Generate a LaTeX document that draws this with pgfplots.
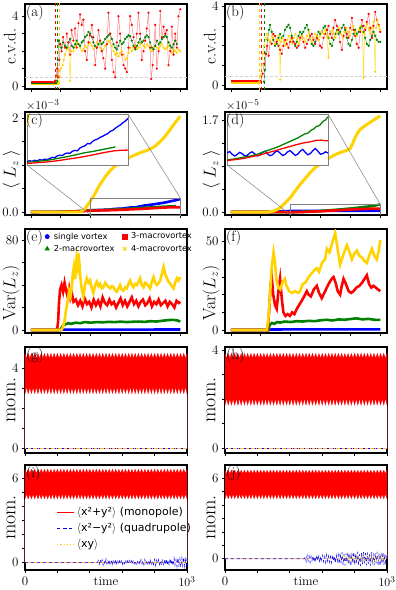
\documentclass[border=0pt]{standalone}
\usepackage{fontspec}
\usepackage{pgfplots}
\usepackage{pgfplotstable}
\pgfplotsset{compat=1.18}
\newfontfamily\dejavu{DejaVu Sans}
\definecolor{cgold}{RGB}{255,210,0}
\definecolor{cgreen}{RGB}{0,128,0}

\pgfplotsset{
  panel/.style={
    scale only axis, width=162bp, anchor=north west,
    axis line style={line width=1.1pt},
    tick align=outside, xtick pos=bottom, ytick pos=left,
    major tick length=3bp, every tick/.style={black, line width=0.7pt},
    xtick={0,200,400,600,800,1000}, xticklabels={},
    tick label style={font=\fontsize{13}{13}\selectfont},
  },
  ylab/.style n args={3}{ylabel style={at={(axis description cs:#1,#2)}, anchor=center,
      font=\fontsize{#3}{#3}\selectfont}},
  padx/.style={xmin=-40, xmax=1045},
  tightx/.style={xmin=0, xmax=1000},
  cvd/.style={line width=0.5pt, mark=*, mark size=0.85pt},
  thk/.style={line width=2.6pt},
  bandtop/.style={fill=red, draw=red, line width=0.3pt},
  bandbot/.style={fill=white, draw=none},
  dotlegend/.style={legend image code/.code={\draw[##1] plot coordinates {(0cm,0cm)};}},
}
\tikzset{plab/.style={anchor=north west, inner sep=1pt, font=\fontsize{15}{15}\selectfont}}

% envelopes of the fast oscillating monopole moment (g)-(j)
\pgfplotstableread{
t gU gL hU hL iU iL jU jL
0 4.75 2.67 3.86 1.70 6.64 4.45 6.60 4.40
10 4.50 3.00 3.66 1.97 6.36 4.80 6.35 4.75
20 4.75 2.67 3.86 1.70 6.64 4.45 6.60 4.40
30 4.50 3.00 3.66 1.97 6.36 4.80 6.35 4.75
40 4.75 2.67 3.86 1.70 6.64 4.45 6.60 4.40
50 4.50 3.00 3.66 1.97 6.36 4.80 6.35 4.75
60 4.75 2.67 3.86 1.70 6.64 4.45 6.60 4.40
70 4.50 3.00 3.66 1.97 6.36 4.80 6.35 4.75
80 4.75 2.67 3.86 1.70 6.64 4.45 6.60 4.40
90 4.50 3.00 3.66 1.97 6.36 4.80 6.35 4.75
100 4.75 2.67 3.86 1.70 6.64 4.45 6.60 4.40
110 4.50 3.00 3.66 1.97 6.36 4.80 6.35 4.75
120 4.75 2.67 3.86 1.70 6.64 4.45 6.60 4.40
130 4.50 3.00 3.66 1.97 6.36 4.80 6.35 4.75
140 4.75 2.67 3.86 1.70 6.64 4.45 6.60 4.40
150 4.50 3.00 3.66 1.97 6.36 4.80 6.35 4.75
160 4.75 2.67 3.86 1.70 6.64 4.45 6.60 4.40
170 4.50 3.00 3.66 1.97 6.36 4.80 6.35 4.75
180 4.75 2.67 3.86 1.70 6.64 4.45 6.60 4.40
190 4.50 3.00 3.66 1.97 6.36 4.80 6.35 4.75
200 4.75 2.67 3.86 1.70 6.64 4.45 6.60 4.40
210 4.50 3.00 3.66 1.97 6.36 4.80 6.35 4.75
220 4.75 2.67 3.86 1.70 6.64 4.45 6.60 4.40
230 4.50 3.00 3.66 1.97 6.36 4.80 6.35 4.75
240 4.75 2.67 3.86 1.70 6.64 4.45 6.60 4.40
250 4.50 3.00 3.66 1.97 6.36 4.80 6.35 4.75
260 4.75 2.67 3.86 1.70 6.64 4.45 6.60 4.40
270 4.50 3.00 3.66 1.97 6.36 4.80 6.35 4.75
280 4.75 2.67 3.86 1.70 6.64 4.45 6.60 4.40
290 4.50 3.00 3.66 1.97 6.36 4.80 6.35 4.75
300 4.75 2.67 3.86 1.70 6.64 4.45 6.60 4.40
310 4.50 3.00 3.66 1.97 6.36 4.80 6.35 4.75
320 4.75 2.67 3.86 1.70 6.64 4.45 6.60 4.40
330 4.50 3.00 3.66 1.97 6.36 4.80 6.35 4.75
340 4.75 2.67 3.86 1.70 6.64 4.45 6.60 4.40
350 4.50 3.00 3.66 1.97 6.36 4.80 6.35 4.75
360 4.75 2.67 3.86 1.70 6.64 4.45 6.60 4.40
370 4.50 3.00 3.66 1.97 6.36 4.80 6.35 4.75
380 4.75 2.67 3.86 1.70 6.64 4.45 6.60 4.40
390 4.50 3.00 3.66 1.97 6.36 4.80 6.35 4.75
400 4.75 2.67 3.86 1.70 6.64 4.45 6.60 4.40
410 4.50 3.00 3.66 1.97 6.36 4.80 6.35 4.75
420 4.75 2.67 3.86 1.70 6.64 4.45 6.60 4.40
430 4.50 3.00 3.66 1.97 6.36 4.80 6.35 4.75
440 4.75 2.67 3.86 1.70 6.64 4.45 6.60 4.40
450 4.50 3.00 3.66 1.97 6.36 4.80 6.35 4.75
460 4.75 2.67 3.86 1.70 6.64 4.45 6.60 4.40
470 4.50 3.00 3.66 1.97 6.36 4.80 6.35 4.75
480 4.75 2.67 3.86 1.70 6.64 4.45 6.60 4.40
490 4.50 3.00 3.66 1.97 6.36 4.80 6.35 4.75
500 4.75 2.67 3.86 1.70 6.64 4.45 6.60 4.40
510 4.50 3.00 3.66 1.97 6.36 4.80 6.35 4.75
520 4.75 2.67 3.86 1.70 6.64 4.45 6.60 4.40
530 4.50 3.00 3.66 1.97 6.36 4.80 6.35 4.75
540 4.75 2.67 3.86 1.70 6.64 4.45 6.60 4.40
550 4.50 3.00 3.66 1.97 6.36 4.80 6.35 4.75
560 4.75 2.67 3.86 1.70 6.64 4.45 6.60 4.40
570 4.50 3.00 3.66 1.97 6.36 4.80 6.35 4.75
580 4.75 2.67 3.86 1.70 6.64 4.45 6.60 4.40
590 4.50 3.00 3.66 1.97 6.36 4.80 6.35 4.75
600 4.75 2.67 3.86 1.70 6.64 4.45 6.60 4.40
610 4.50 3.00 3.66 1.97 6.36 4.80 6.35 4.75
620 4.75 2.67 3.86 1.70 6.64 4.45 6.60 4.40
630 4.50 3.00 3.66 1.97 6.36 4.80 6.35 4.75
640 4.75 2.67 3.86 1.70 6.64 4.45 6.60 4.40
650 4.50 3.00 3.66 1.97 6.36 4.80 6.35 4.75
660 4.75 2.67 3.86 1.70 6.64 4.45 6.60 4.40
670 4.50 3.00 3.66 1.97 6.36 4.80 6.35 4.75
680 4.75 2.67 3.86 1.70 6.64 4.45 6.60 4.40
690 4.50 3.00 3.66 1.97 6.36 4.80 6.35 4.75
700 4.75 2.67 3.86 1.70 6.64 4.45 6.60 4.40
710 4.50 3.00 3.66 1.97 6.36 4.80 6.35 4.75
720 4.75 2.67 3.86 1.70 6.64 4.45 6.60 4.40
730 4.50 3.00 3.66 1.97 6.36 4.80 6.35 4.75
740 4.75 2.67 3.86 1.70 6.64 4.45 6.60 4.40
750 4.50 3.00 3.66 1.97 6.36 4.80 6.35 4.75
760 4.75 2.67 3.86 1.70 6.64 4.45 6.60 4.40
770 4.50 3.00 3.66 1.97 6.36 4.80 6.35 4.75
780 4.75 2.67 3.86 1.70 6.64 4.45 6.60 4.40
790 4.50 3.00 3.66 1.97 6.36 4.80 6.35 4.75
800 4.75 2.67 3.86 1.70 6.64 4.45 6.60 4.40
810 4.50 3.00 3.66 1.97 6.36 4.80 6.35 4.75
820 4.75 2.67 3.86 1.70 6.64 4.45 6.60 4.40
830 4.50 3.00 3.66 1.97 6.36 4.80 6.35 4.75
840 4.75 2.67 3.86 1.70 6.64 4.45 6.60 4.40
850 4.50 3.00 3.66 1.97 6.36 4.80 6.35 4.75
860 4.75 2.67 3.86 1.70 6.64 4.45 6.60 4.40
870 4.50 3.00 3.66 1.97 6.36 4.80 6.35 4.75
880 4.75 2.67 3.86 1.70 6.64 4.45 6.60 4.40
890 4.50 3.00 3.66 1.97 6.36 4.80 6.35 4.75
900 4.75 2.67 3.86 1.70 6.64 4.45 6.60 4.40
910 4.50 3.00 3.66 1.97 6.36 4.80 6.35 4.75
920 4.75 2.67 3.86 1.70 6.64 4.45 6.60 4.40
930 4.50 3.00 3.66 1.97 6.36 4.80 6.35 4.75
940 4.75 2.67 3.86 1.70 6.64 4.45 6.60 4.40
950 4.50 3.00 3.66 1.97 6.36 4.80 6.35 4.75
960 4.75 2.67 3.86 1.70 6.64 4.45 6.60 4.40
970 4.50 3.00 3.66 1.97 6.36 4.80 6.35 4.75
980 4.75 2.67 3.86 1.70 6.64 4.45 6.60 4.40
990 4.50 3.00 3.66 1.97 6.36 4.80 6.35 4.75
1000 4.75 2.67 3.86 1.70 6.64 4.45 6.60 4.40
}\bands

\begin{document}
\begin{tikzpicture}
\path[use as bounding box] (0,0) rectangle (396bp,-590bp);

%================ (a)
\begin{axis}[panel, padx, name=pa, at={(25bp,-4bp)}, height=85bp,
  ymin=-0.17, ymax=4.7, ytick={0,1,2,3,4}, yticklabels={0,,,,4},
  ylabel={c.v.d.}, ylab={-0.093}{0.5}{17}]
\addplot[gray!35, densely dashed, line width=0.5pt] coordinates {(-40,0.5)(1045,0.5)};
\addplot[red, dashed, line width=0.5pt] coordinates {(160,-0.2)(160,4.8)};
\addplot[cgreen, dashed, line width=0.5pt] coordinates {(177,-0.2)(177,4.8)};
\addplot[cgold, dashed, line width=0.5pt] coordinates {(190,-0.2)(190,4.8)};
\addplot[cgold, line width=2.5pt] coordinates {(0,0.13)(185,0.13)};
\addplot[cgreen, line width=2pt] coordinates {(0,0.18)(175,0.18)};
\addplot[red, line width=1.8pt] coordinates {(0,0.22)(150,0.22)};
\addplot[cvd, draw=cgold!80, mark options={draw=cgold, fill=cgold}] coordinates {
(185,0.2)(192,0.5)(200,1.0)(212,1.2)(220,1.5)(228,1.8)(240,2.1)(252,2.2)(262,0.3)(270,2.0)
(285,2.0)(296,2.3)(306,2.5)(318,2.4)(329,2.2)(340,2.0)(351,2.1)(362,2.3)(374,2.2)(385,2.4)
(396,2.5)(408,2.3)(418,2.1)(430,2.3)(441,2.5)(452,2.4)(463,2.2)(474,2.0)(485,2.1)(497,2.3)
(508,2.4)(519,2.6)(530,2.5)(542,2.3)(553,2.0)(564,1.8)(575,1.9)(586,1.7)(597,1.9)(609,2.0)
(620,1.8)(631,1.5)(642,1.6)(653,1.9)(664,2.2)(675,2.0)(687,2.2)(698,2.3)(709,2.1)(720,2.2)
(731,2.4)(742,2.5)(754,2.3)(765,2.2)(776,2.4)(787,2.3)(798,2.1)(810,2.0)(821,2.2)(832,2.3)
(843,2.2)(855,2.1)(866,2.3)(877,2.4)(888,2.2)(899,2.1)(910,2.2)(921,2.3)(933,2.0)(944,1.9)
(955,2.1)(966,2.0)(977,1.9)(988,2.1)(1000,2.0)};
\addplot[cvd, draw=cgreen!70, mark options={draw=cgreen, fill=cgreen}] coordinates {
(175,0.3)(180,1.5)(186,2.6)(195,2.4)(205,2.2)(215,2.5)(228,2.3)(240,2.2)(252,2.5)(262,2.7)
(274,2.3)(285,2.2)(296,2.4)(306,2.6)(318,2.4)(329,2.3)(340,2.5)(351,2.6)(362,2.8)(374,2.9)
(385,3.1)(396,3.0)(408,2.8)(418,2.5)(430,2.3)(441,2.2)(452,2.4)(463,2.6)(474,2.4)(485,2.5)
(497,2.7)(508,2.8)(519,2.9)(530,3.0)(542,2.7)(553,2.4)(564,2.2)(575,2.1)(586,2.3)(597,2.6)
(609,2.4)(620,2.5)(631,2.7)(642,2.8)(653,2.9)(664,2.85)(675,2.6)(687,2.3)(698,2.1)(709,2.3)
(720,2.5)(731,2.7)(742,2.5)(754,2.6)(765,2.8)(776,2.9)(787,2.8)(798,2.5)(810,2.2)(821,2.1)
(832,2.3)(843,2.6)(855,2.4)(866,2.5)(877,2.7)(888,2.8)(899,2.9)(910,2.8)(921,2.5)(933,2.3)
(944,2.2)(955,2.4)(966,2.6)(977,2.4)};
\addplot[cvd, draw=red!50, mark options={draw=red, fill=red}] coordinates {
(150,0.2)(160,0.3)(168,0.6)(175,1.0)(182,0.5)(190,1.5)(197,2.4)(205,2.0)(215,2.8)(228,2.2)
(240,3.0)(250,2.5)(262,1.8)(272,3.2)(284,2.6)(295,3.3)(306,2.2)(318,3.6)(329,4.1)(340,3.5)
(351,3.8)(362,2.0)(374,1.5)(385,2.5)(396,2.9)(408,3.5)(418,2.8)(430,1.2)(441,2.2)(452,3.2)
(463,2.6)(474,2.0)(485,1.6)(497,1.0)(508,2.4)(519,4.2)(530,3.0)(542,1.5)(553,0.8)(564,0.5)
(575,2.5)(586,4.0)(597,3.0)(609,1.8)(620,1.2)(631,1.0)(642,0.8)(653,2.2)(664,4.0)(675,3.5)
(687,2.8)(698,2.2)(709,3.0)(720,4.2)(731,3.0)(742,1.5)(754,2.0)(765,2.6)(776,3.3)(787,4.2)
(798,2.2)(805,0.4)(815,1.2)(832,3.5)(843,1.0)(855,2.0)(866,4.3)(877,2.8)(888,3.4)(899,3.0)
(910,3.2)(921,1.2)(933,2.0)(944,3.4)(955,1.8)(966,3.0)(977,2.2)(988,4.0)(1000,4.4)};
\end{axis}
\node[plab] at (pa.north west) {(a)};

%================ (b)
\begin{axis}[panel, padx, name=pb, at={(225bp,-4bp)}, height=85bp,
  ymin=-0.17, ymax=4.1, ytick={0,1,2,3,4}, yticklabels={0,,,,4},
  ylabel={c.v.d.}, ylab={-0.093}{0.5}{17}]
\addplot[gray!35, densely dashed, line width=0.5pt] coordinates {(-40,0.45)(1045,0.45)};
\addplot[cgold, dashed, line width=0.5pt] coordinates {(190,-0.2)(190,4.2)};
\addplot[red, dashed, line width=0.5pt] coordinates {(201,-0.2)(201,4.2)};
\addplot[cgreen, dashed, line width=0.5pt] coordinates {(221,-0.2)(221,4.2)};
\addplot[red, line width=2.2pt] coordinates {(0,0.22)(200,0.22)};
\addplot[cgold, line width=2.5pt] coordinates {(0,0.13)(190,0.13)};
\addplot[cvd, draw=cgreen!70, mark options={draw=cgreen, fill=cgreen}] coordinates {
(221,0.2)(228,0.8)(235,1.6)(245,2.3)(255,2.8)(262,3.05)(273,2.7)(284,2.3)(295,2.0)(306,2.1)
(318,2.4)(329,2.6)(340,2.4)(351,2.5)(362,2.8)(374,2.95)(385,3.05)(396,2.9)(407,2.5)(418,2.2)
(430,2.0)(441,2.2)(452,2.5)(463,2.7)(474,2.6)(485,2.7)(497,2.9)(508,3.05)(519,2.8)(530,2.4)
(541,2.1)(552,2.0)(564,2.2)(575,2.5)(586,2.7)(597,2.6)(608,2.7)(620,2.9)(631,3.0)(642,2.8)
(653,2.4)(665,2.1)(676,2.0)(687,2.3)(698,2.6)(709,2.8)(720,2.6)(731,2.7)(743,2.9)(754,3.05)
(765,2.8)(776,2.4)(787,2.1)(798,2.0)(810,2.3)(821,2.6)(832,2.8)(843,2.6)(855,2.7)(866,2.9)
(877,3.0)(888,2.7)(899,2.4)(910,2.1)(922,2.0)(933,2.3)(944,2.5)(955,2.7)(966,2.5)(977,2.3)
(989,2.2)(1000,2.2)};
\addplot[cvd, draw=red!50, mark options={draw=red, fill=red}] coordinates {
(201,0.2)(212,0.6)(222,1.1)(232,1.6)(242,2.0)(252,1.5)(262,2.2)(273,2.1)(284,2.6)(295,2.5)
(306,2.2)(318,2.0)(329,1.8)(340,1.6)(351,2.0)(362,2.3)(374,2.1)(385,1.9)(396,2.2)(407,2.4)
(418,2.2)(430,2.1)(441,1.9)(452,2.0)(463,2.4)(474,2.5)(485,2.2)(497,1.9)(508,2.1)(519,2.3)
(530,2.5)(541,2.6)(552,2.3)(564,2.1)(575,2.4)(586,2.3)(597,2.0)(608,1.9)(620,2.4)(631,2.6)
(642,2.8)(653,3.0)(665,2.6)(676,2.4)(687,2.9)(698,3.3)(709,3.0)(720,2.8)(731,2.2)(743,1.8)
(754,2.5)(765,2.9)(776,2.6)(787,2.4)(798,2.9)(810,3.4)(821,2.8)(832,2.5)(843,2.1)(855,1.9)
(866,2.7)(877,3.3)(888,3.0)(899,2.8)(910,3.2)(922,3.6)(933,2.9)(944,2.4)(955,3.0)(966,3.7)
(977,3.3)(989,3.05)(1000,2.7)};
\addplot[cvd, draw=cgold!80, mark options={draw=cgold, fill=cgold}] coordinates {
(190,0.2)(198,0.5)(206,1.0)(214,1.6)(222,2.0)(232,2.4)(242,2.6)(252,2.3)(262,2.2)(273,2.5)
(284,2.4)(295,2.1)(306,2.3)(318,2.5)(325,2.3)(329,0.3)(335,2.2)(345,2.4)(355,2.2)(366,2.0)
(377,2.3)(388,2.5)(399,2.3)(410,2.1)(421,2.4)(432,2.6)(443,2.3)(454,2.1)(465,2.3)(476,2.5)
(487,2.4)(498,2.2)(509,2.5)(520,2.7)(531,2.4)(542,2.2)(553,2.4)(564,2.6)(575,2.5)(586,2.3)
(597,2.5)(608,2.7)(620,2.6)(631,2.8)(642,2.5)(653,1.4)(660,2.4)(670,2.7)(680,2.8)(690,2.6)
(700,2.4)(712,2.7)(724,2.9)(736,2.6)(748,2.4)(760,2.7)(772,2.9)(784,2.7)(796,2.5)(808,2.8)
(820,3.0)(832,2.7)(844,2.5)(856,2.8)(868,3.0)(880,2.7)(888,0.4)(894,2.6)(904,2.9)(914,3.1)
(924,2.8)(934,2.6)(944,2.9)(955,3.2)(966,0.7)(972,2.9)(982,3.3)(992,3.0)(1000,2.8)};
\end{axis}
\node[plab] at (pb.north west) {(b)};

%================ (c)
\begin{axis}[panel, padx, name=pc, at={(25bp,-112bp)}, height=103bp,
  ymin=-0.064, ymax=2.13, ytick={0,0.5,1,1.5,2}, yticklabels={0.0,,,,2},
  ylabel={$\langle\; L_z\;\rangle$}, ylab={-0.084}{0.44}{16}]
\addplot[blue, thk] coordinates {
(0,0)(200,0.005)(300,0.015)(400,0.038)(430,0.040)(460,0.043)(490,0.047)(520,0.050)
(550,0.062)(580,0.070)(610,0.072)(640,0.086)(670,0.096)(700,0.098)(730,0.120)(760,0.138)
(790,0.150)(820,0.163)(850,0.178)(880,0.192)(910,0.21)(940,0.232)(970,0.252)(1000,0.276)};
\addplot[cgreen, thk] coordinates {
(0,0)(200,0.004)(300,0.012)(400,0.035)(460,0.040)(520,0.046)(580,0.056)(640,0.066)
(700,0.078)(760,0.09)(820,0.1)(880,0.111)(940,0.12)(970,0.123)};
\addplot[red, thk] coordinates {
(0,0)(200,0.003)(300,0.01)(400,0.029)(480,0.034)(560,0.041)(640,0.052)(720,0.063)
(800,0.077)(880,0.092)(920,0.098)(960,0.101)(1000,0.102)};
\addplot[cgold, line width=3pt] coordinates {
(0,0)(330,0)(360,0.06)(400,0.24)(430,0.4)(463,0.59)(500,0.76)(530,0.88)(560,0.97)
(597,1.04)(630,1.1)(664,1.17)(700,1.22)(731,1.26)(765,1.3)(798,1.34)(830,1.4)(866,1.5)
(900,1.62)(933,1.76)(965,1.9)(1000,2.04)};
\draw[gray, line width=0.6pt] (axis cs:400,-0.064) rectangle (axis cs:1000,0.3);
\coordinate (cR1) at (axis cs:400,-0.064);
\coordinate (cR2) at (axis cs:1000,0.3);
\end{axis}
\begin{axis}[name=insc, at={(27bp,-114bp)}, anchor=north west, scale only axis,
  width=101bp, height=51bp, xmin=400, xmax=1000, ymin=0.02, ymax=0.30, ticks=none,
  axis line style={gray, line width=0.6pt}, axis background/.style={fill=white}]
\addplot[cgold, line width=1.6pt] coordinates {(400,0.24)(430,0.4)};
\addplot[blue, line width=1.3pt] coordinates {
(400,0.038)(415,0.044)(430,0.040)(445,0.046)(460,0.043)(475,0.049)(490,0.047)(505,0.052)
(520,0.050)(536,0.056)(550,0.062)(565,0.060)(580,0.070)(595,0.074)(610,0.072)(625,0.082)
(640,0.086)(655,0.084)(670,0.096)(685,0.100)(700,0.098)(715,0.114)(730,0.120)(745,0.126)
(760,0.138)(775,0.136)(790,0.150)(805,0.158)(820,0.163)(835,0.172)(850,0.178)(865,0.186)
(880,0.192)(895,0.205)(910,0.21)(925,0.222)(940,0.232)(955,0.24)(970,0.252)(985,0.262)(1000,0.276)};
\addplot[cgreen, line width=1.3pt] coordinates {
(400,0.035)(430,0.038)(460,0.040)(490,0.043)(520,0.046)(550,0.05)(580,0.056)(610,0.061)
(640,0.066)(670,0.072)(700,0.078)(730,0.085)(760,0.09)(790,0.094)(820,0.1)(850,0.105)
(880,0.111)(910,0.116)(925,0.12)};
\addplot[red, line width=1.3pt] coordinates {
(400,0.029)(440,0.031)(480,0.034)(520,0.037)(560,0.041)(600,0.046)(640,0.052)(680,0.057)
(720,0.063)(760,0.07)(800,0.077)(840,0.085)(880,0.092)(920,0.098)(960,0.101)(1000,0.102)};
\end{axis}
\draw[gray, line width=0.5pt] (insc.south west) -- (cR1);
\draw[gray, line width=0.5pt] (insc.north east) -- (cR2);
\node[plab] at (pc.north west) {(c)};
\node[anchor=south west, inner sep=1pt, font=\fontsize{13}{13}\selectfont] at (pc.north west) {$\times10^{-3}$};

%================ (d)
\begin{axis}[panel, padx, name=pd, at={(225bp,-112bp)}, height=103bp,
  ymin=-0.055, ymax=1.85, ytick={0,0.425,0.85,1.275,1.7}, yticklabels={0.0,,,,1.7},
  ylabel={$\langle\; L_z\;\rangle$}, ylab={-0.084}{0.44}{16}]
\addplot[blue, thk] coordinates {(0,0)(300,0.005)(400,0.02)(1000,0.02)};
\addplot[cgreen, thk] coordinates {
(0,0)(300,0)(400,-0.003)(500,0.006)(580,0.016)(660,0.032)(740,0.05)(820,0.07)(900,0.096)
(950,0.112)(1000,0.141)};
\addplot[red, thk] coordinates {
(0,0)(300,0)(400,-0.005)(500,0.002)(600,0.014)(700,0.03)(800,0.046)(900,0.058)(960,0.063)(1000,0.061)};
\addplot[cgold, line width=3pt] coordinates {
(0,0)(250,0)(290,0.02)(330,0.08)(363,0.17)(396,0.26)(430,0.39)(463,0.51)(497,0.62)(530,0.73)
(563,0.82)(597,0.89)(630,0.95)(664,1.01)(697,1.06)(731,1.1)(765,1.13)(798,1.17)(815,1.27)
(832,1.38)(850,1.47)(866,1.53)(900,1.6)(933,1.66)(966,1.72)(1000,1.78)};
\draw[gray, line width=0.6pt] (axis cs:400,-0.055) rectangle (axis cs:1000,0.14);
\coordinate (dR1) at (axis cs:400,-0.055);
\coordinate (dR2) at (axis cs:1000,0.14);
\end{axis}
\begin{axis}[name=insd, at={(227bp,-114bp)}, anchor=north west, scale only axis,
  width=101bp, height=51bp, xmin=400, xmax=1000, ymin=-0.02, ymax=0.15, ticks=none,
  axis line style={gray, line width=0.6pt}, axis background/.style={fill=white}]
\addplot[blue, line width=1.3pt] coordinates {
(400,0.02)(415,0.025)(430,0.016)(445,0.01)(460,0.015)(475,0.022)(490,0.018)(505,0.01)
(520,0.012)(535,0.02)(550,0.024)(565,0.017)(580,0.01)(595,0.013)(610,0.022)(625,0.026)
(640,0.018)(655,0.011)(670,0.014)(685,0.023)(700,0.027)(715,0.02)(730,0.012)(745,0.015)
(760,0.024)(775,0.028)(790,0.02)(805,0.012)(820,0.016)(835,0.026)(850,0.032)(865,0.022)
(880,0.014)(895,0.018)(910,0.028)(925,0.035)(940,0.026)(955,0.016)(970,0.018)(985,0.024)(1000,0.02)};
\addplot[cgreen, line width=1.3pt] coordinates {
(400,-0.003)(430,-0.001)(460,0.002)(500,0.006)(540,0.01)(580,0.016)(620,0.024)(660,0.032)
(700,0.04)(740,0.05)(780,0.06)(820,0.07)(860,0.083)(880,0.086)(900,0.096)(915,0.1)(930,0.108)
(950,0.112)(970,0.125)(985,0.13)(1000,0.141)};
\addplot[red, line width=1.3pt] coordinates {
(400,-0.005)(450,-0.002)(500,0.002)(550,0.008)(600,0.014)(650,0.022)(700,0.03)(750,0.038)
(800,0.046)(850,0.053)(900,0.058)(930,0.062)(960,0.063)(980,0.061)(1000,0.061)};
\end{axis}
\draw[gray, line width=0.5pt] (insd.south west) -- (dR1);
\draw[gray, line width=0.5pt] (insd.north east) -- (dR2);
\node[plab] at (pd.north west) {(d)};
\node[anchor=south west, inner sep=1pt, font=\fontsize{13}{13}\selectfont] at (pd.north west) {$\times10^{-5}$};

%================ (e)
\begin{axis}[panel, padx, name=pe, at={(25bp,-229bp)}, height=104bp,
  ymin=-2.7, ymax=89.8, ytick={0,20,40,60,80}, yticklabels={0,,,,80},
  ylabel={Var$(L_z)$}, ylab={-0.086}{0.385}{18},
  legend columns=2, transpose legend, legend cell align=left,
  legend style={at={(axis description cs:0.122,0.985)}, anchor=north west, draw=none,
    fill=none, inner sep=0pt, row sep=0.5bp, font=\dejavu\fontsize{8.3}{9.5}\selectfont,
    /tikz/every even column/.append style={column sep=6bp},
    /tikz/every odd column/.append style={column sep=2.5bp}}]
\addlegendimage{only marks, mark=*, blue, mark size=2.2pt, dotlegend}
\addlegendentry{single vortex}
\addlegendimage{only marks, mark=triangle*, cgreen, mark size=2.6pt, dotlegend}
\addlegendentry{2-macrovortex}
\addlegendimage{only marks, mark=square*, red, mark size=2.1pt, dotlegend}
\addlegendentry{3-macrovortex}
\addlegendimage{only marks, mark=x, cgold, mark size=2.5pt, line width=1pt, dotlegend}
\addlegendentry{4-macrovortex}
\addplot[blue, thk, forget plot] coordinates {(0,0)(200,0)(220,0.3)(1000,0.4)};
\addplot[cgreen, thk, forget plot] coordinates {
(0,0)(195,0)(205,2)(215,4)(230,5)(250,6)(270,5.5)(300,6.5)(330,6)(360,7)(400,6.5)(440,7)
(480,6.8)(520,7.2)(560,7)(600,7.4)(640,7)(680,7.3)(720,7.5)(760,7.2)(800,7.8)(840,7.5)
(880,8.2)(920,8.8)(950,9)(980,8.5)(1000,7.5)};
\addplot[red, thk, forget plot] coordinates {
(0,0)(175,0)(182,8)(188,25)(195,36)(205,40)(215,34)(225,42)(235,35)(245,30)(255,37)(265,28)
(275,32)(285,25)(300,27)(315,22)(330,26)(345,21)(360,28)(375,23)(390,25)(405,20)(420,27)
(435,22)(450,26)(465,21)(480,29)(495,24)(510,22)(525,27)(540,23)(555,25)(570,20)(585,24)
(600,28)(615,22)(630,26)(645,21)(660,25)(675,29)(690,23)(705,26)(720,21)(735,25)(750,27)
(765,22)(780,24)(795,28)(810,21)(825,25)(840,23)(855,27)(870,22)(885,24)(900,26)(915,21)
(930,25)(945,23)(960,20)(975,26)(990,24)(1000,25)};
\addplot[cgold, thk, forget plot] coordinates {
(0,0)(205,0)(215,3)(225,8)(235,18)(245,25)(255,35)(265,30)(273,37)(280,50)(287,56)(295,45)
(306,64)(312,58)(318,68)(324,60)(329,49)(340,36)(351,30)(362,40)(374,46)(385,42)(396,44)
(407,37)(418,33)(430,40)(441,43)(452,39)(463,41)(475,37)(485,38)(497,42)(508,40)(520,38)
(530,37)(542,39)(553,38)(565,35)(575,34)(586,37)(597,40)(608,36)(620,35)(631,38)(642,37)
(653,41)(664,44)(676,40)(687,38)(698,41)(709,40)(720,43)(731,46)(742,40)(754,38)(765,42)
(776,41)(787,39)(798,37)(810,43)(821,47)(832,42)(843,40)(855,42)(866,44)(877,50)(888,56)
(899,50)(910,46)(921,43)(933,41)(944,39)(955,37)(966,42)(977,46)(988,44)(1000,47)};
\end{axis}
\node[plab] at (pe.north west) {(e)};

%================ (f)
\begin{axis}[panel, padx, name=pf, at={(225bp,-229bp)}, height=104bp,
  ymin=-1.7, ymax=57.2, ytick={0,10,20,30,40,50}, yticklabels={0,,,,,50},
  ylabel={Var$(L_z)$}, ylab={-0.086}{0.385}{18}]
\addplot[blue, thk] coordinates {(0,0)(250,0)(270,0.3)(1000,0.4)};
\addplot[cgreen, thk] coordinates {
(0,0)(250,0)(260,3)(275,4)(290,3.5)(310,4.5)(330,4.2)(360,4.8)(400,4.5)(440,5)(480,4.8)
(520,5.2)(560,5)(600,5.5)(640,5.8)(680,5.4)(720,6.0)(760,5.8)(800,6.2)(840,6.6)(880,6.0)
(920,6.3)(960,5.8)(1000,5.7)};
\addplot[red, thk] coordinates {
(0,0)(245,0)(255,10)(265,25)(273,30)(283,20)(295,14)(306,12)(318,22)(329,29)(340,18)(351,10)
(365,8)(380,9)(395,8)(410,10)(425,9)(441,12)(455,14)(470,16)(490,19)(508,22)(520,20)(535,19)
(555,23)(575,25)(590,21)(608,18)(625,21)(642,24)(660,27)(675,29)(687,30)(700,27)(715,22)
(731,20)(742,25)(754,29)(770,26)(788,22)(805,21)(821,22)(840,24)(860,25)(880,27)(895,29)
(910,31)(925,26)(940,24)(955,25)(970,24)(985,23)(1000,22)};
\addplot[cgold, thk] coordinates {
(0,0)(240,0)(250,6)(262,20)(272,35)(285,44)(295,38)(305,28)(318,24)(330,23)(345,27)(360,29)
(372,25)(390,22)(410,21)(430,22)(450,21)(463,22)(480,26)(500,27)(520,30)(540,32)(560,34)
(575,35)(590,33)(610,38)(630,40)(642,46)(660,44)(680,50)(698,55)(712,47)(731,37)(750,42)
(776,48)(795,44)(810,40)(825,43)(843,45)(860,42)(877,41)(895,39)(910,38)(925,42)(944,46)
(960,42)(977,40)(990,45)(1000,51)};
\end{axis}
\node[plab] at (pf.north west) {(f)};

%================ (g)
\begin{axis}[panel, tightx, name=pg, at={(25bp,-347bp)}, height=106bp,
  ymin=-0.23, ymax=5.07, ytick={0,1,2,3,4}, yticklabels={0,,,,4},
  ylabel={mom.}, ylab={-0.086}{0.5}{20}]
\addplot[bandtop] table[x=t, y=gU] {\bands} \closedcycle;
\addplot[bandbot] table[x=t, y=gL] {\bands} \closedcycle;
\addplot[blue, dashed, line width=0.6pt] coordinates {(0,0)(1000,0)};
\addplot[cgold, dotted, line width=0.6pt] coordinates {(0,0)(1000,0)};
\end{axis}
\node[plab] at (pg.north west) {(g)};

%================ (h)
\begin{axis}[panel, tightx, name=ph, at={(225bp,-347bp)}, height=106bp,
  ymin=-0.19, ymax=4.12, ytick={0,1,2,3,4}, yticklabels={0,,,,4},
  ylabel={mom.}, ylab={-0.086}{0.5}{20}]
\addplot[bandtop] table[x=t, y=hU] {\bands} \closedcycle;
\addplot[bandbot] table[x=t, y=hL] {\bands} \closedcycle;
\addplot[blue, dashed, line width=0.6pt] coordinates {(0,0)(1000,0)};
\addplot[cgold, dotted, line width=0.6pt] coordinates {(0,0)(1000,0)};
\end{axis}
\node[plab] at (ph.north west) {(h)};

%================ (i)
\begin{axis}[panel, tightx, name=pi, at={(25bp,-465bp)}, height=105bp,
  ymin=-0.55, ymax=6.95, ytick={0,1,2,3,4,5,6}, yticklabels={0,,,,,,6},
  ylabel={mom.}, ylab={-0.086}{0.5}{20},
  xticklabels={0,,,,,$10^3$}, xlabel={time},
  xlabel style={at={(axis description cs:0.5,0)}, anchor=north, yshift=-4bp,
    font=\fontsize{13}{13}\selectfont},
  legend cell align=left,
  legend style={at={(axis description cs:0.195,0.615)}, anchor=north west, draw=none,
    fill=none, inner sep=0pt, row sep=2bp, font=\dejavu\fontsize{11}{12}\selectfont}]
\addlegendimage{red, line width=1.1pt}
\addlegendentry{$\langle$x²+y²$\rangle$ (monopole)}
\addlegendimage{blue, dashed, line width=1.1pt}
\addlegendentry{$\langle$x²−y²$\rangle$ (quadrupole)}
\addlegendimage{cgold, dotted, line width=1.1pt}
\addlegendentry{$\langle$xy$\rangle$}
\addplot[bandtop, forget plot] table[x=t, y=iU] {\bands} \closedcycle;
\addplot[bandbot, forget plot] table[x=t, y=iL] {\bands} \closedcycle;
\addplot[cgold, dotted, line width=0.6pt, forget plot] coordinates {(0,0)(1000,0)};
\addplot[blue, dashed, line width=0.6pt, forget plot] coordinates {
(0,0)(448,0)(452,0.12)(458,-0.15)(464,0.2)(470,-0.1)(476,0.18)(482,-0.2)(488,0.1)(494,-0.16)
(500,0.22)(506,-0.12)(512,0.15)(518,-0.2)(524,0.12)(530,-0.08)(536,0.18)(542,-0.15)(548,0.1)
(554,-0.18)(560,0.2)(566,-0.1)(572,0.14)(578,-0.16)(584,0.1)(590,-0.12)(596,0.18)(602,-0.14)
(608,0.08)(614,-0.1)(620,0.15)(626,-0.12)(632,0.1)(638,-0.15)(644,0.12)(650,-0.08)(656,0.1)
(662,-0.12)(668,0.16)(674,-0.1)(680,0.12)(686,-0.14)(692,0.1)(698,-0.08)(704,0.12)(710,-0.15)
(716,0.18)(722,-0.12)(728,0.1)(734,-0.18)(740,0.2)(746,-0.14)(752,0.12)(758,-0.1)(764,0.16)
(770,-0.2)(776,0.14)(782,-0.12)(788,0.1)(794,-0.16)(800,0.2)(806,-0.22)(812,0.15)(818,-0.1)
(824,0.18)(830,-0.16)(836,0.12)(842,-0.2)(848,0.22)(854,-0.15)(860,0.1)(866,-0.18)(872,0.25)
(878,-0.2)(884,0.15)(890,-0.22)(896,0.28)(902,-0.18)(908,0.2)(914,-0.25)(920,0.3)(926,-0.2)
(932,0.18)(938,-0.3)(944,0.32)(950,-0.22)(956,0.25)(962,-0.35)(968,0.3)(974,-0.25)(980,0.38)
(986,-0.3)(992,0.35)(998,-0.4)(1000,0.2)};
\end{axis}
\node[plab] at (pi.north west) {(i)};

%================ (j)
\begin{axis}[panel, tightx, name=pj, at={(225bp,-465bp)}, height=105bp,
  ymin=-0.84, ymax=6.99, ytick={0,1,2,3,4,5,6}, yticklabels={0,,,,,,6},
  ylabel={mom.}, ylab={-0.086}{0.5}{20},
  xticklabels={0,,,,,$10^3$}, xlabel={time},
  xlabel style={at={(axis description cs:0.5,0)}, anchor=north, yshift=-4bp,
    font=\fontsize{13}{13}\selectfont}]
\addplot[bandtop] table[x=t, y=jU] {\bands} \closedcycle;
\addplot[bandbot] table[x=t, y=jL] {\bands} \closedcycle;
\addplot[blue, dashed, line width=0.6pt] coordinates {
(0,0)(490,0)(495,0.15)(501,-0.2)(507,0.25)(513,-0.15)(519,0.2)(525,-0.28)(531,0.18)(537,-0.12)
(543,0.22)(549,-0.25)(555,0.15)(561,-0.2)(567,0.28)(573,-0.15)(579,0.2)(585,-0.3)(591,0.18)
(597,-0.12)(603,0.25)(609,-0.22)(615,0.15)(621,-0.28)(627,0.3)(633,-0.18)(639,0.2)(645,-0.25)
(651,0.15)(657,-0.3)(663,0.28)(669,-0.2)(675,0.22)(681,-0.3)(687,0.25)(693,-0.18)(699,0.3)
(705,-0.4)(711,0.45)(717,-0.35)(723,0.5)(729,-0.45)(735,0.35)(741,-0.5)(747,0.4)(753,-0.3)
(759,0.5)(765,-0.45)(771,0.38)(777,-0.55)(783,0.45)(789,-0.35)(795,0.5)(801,-0.48)(807,0.4)
(813,-0.3)(819,0.52)(825,-0.45)(831,0.35)(837,-0.55)(843,0.45)(849,-0.4)(855,0.5)(861,-0.35)
(867,0.42)(873,-0.5)(879,0.48)(885,-0.4)(891,0.35)(897,-0.55)(903,0.5)(909,-0.42)(915,0.4)
(921,-0.5)(927,0.45)(933,-0.35)(939,0.52)(945,-0.48)(951,0.4)(957,-0.55)(963,0.45)(969,-0.4)
(975,0.5)(981,-0.45)(987,0.38)(993,-0.5)(1000,0.4)};
\addplot[cgold!70!gray, dotted, line width=0.7pt] coordinates {
(0,0)(720,0)(726,0.15)(732,-0.2)(738,0.2)(744,-0.15)(750,0.25)(756,-0.2)(762,0.15)(768,-0.25)
(774,0.2)(780,-0.15)(786,0.25)(792,-0.2)(798,0.18)(804,-0.25)(810,0.2)(816,-0.18)(822,0.25)
(828,-0.2)(834,0.15)(840,-0.25)(846,0.2)(852,-0.18)(858,0.25)(864,-0.2)(870,0.15)(876,-0.25)
(882,0.22)(888,-0.18)(894,0.25)(900,-0.2)(906,0.18)(912,-0.25)(918,0.2)(924,-0.15)(930,0.25)
(936,-0.2)(942,0.18)(948,-0.25)(954,0.2)(960,-0.18)(966,0.25)(972,-0.2)(978,0.15)(984,-0.25)
(990,0.2)(1000,-0.1)};
\end{axis}
\node[plab] at (pj.north west) {(j)};

\end{tikzpicture}
\end{document}
